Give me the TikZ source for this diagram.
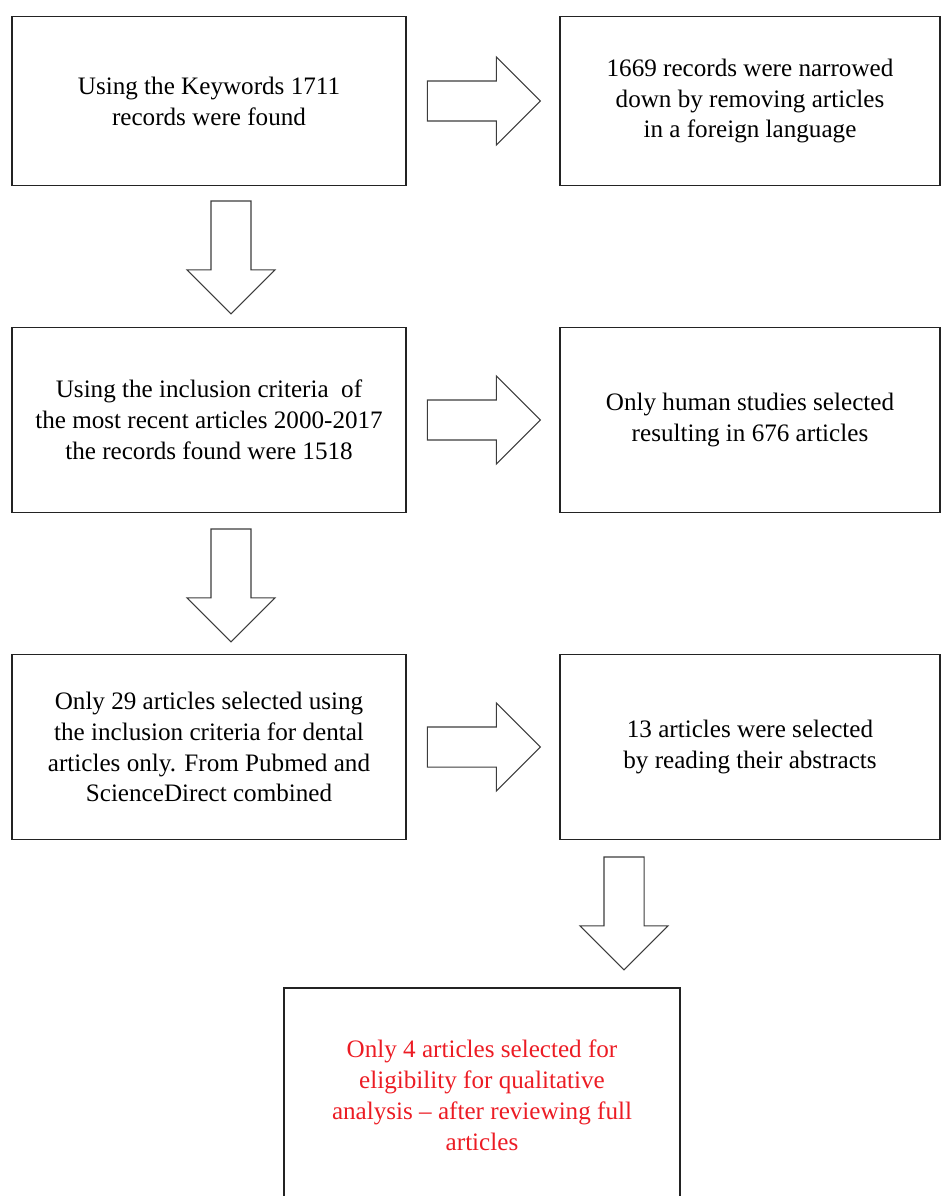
\documentclass[tikz,border=0pt]{standalone}
\usepackage{fontspec}
\setmainfont{Liberation Serif}
\usetikzlibrary{shapes.arrows,calc}

\definecolor{boxline}{RGB}{35,35,35}
\definecolor{arrowline}{RGB}{60,60,60}
\definecolor{finalred}{RGB}{236,28,36}

\tikzset{
    stage/.style={draw=boxline, line width=1.1pt, align=center, inner sep=0pt,
        font=\fontsize{14.3}{17.6}\selectfont},
    leftstage/.style={stage, minimum width=7.88cm},
    rightstage/.style={stage, minimum width=7.6cm},
    blockarrow/.style={draw=arrowline, line width=0.6pt, single arrow, anchor=tail,
        inner xsep=0pt, inner ysep=0.39cm, single arrow head extend=0.48cm,
        single arrow tip angle=90, minimum height=2.26cm}
}

\begin{document}
\begin{tikzpicture}[x=0.02cm, y=-0.02cm]
            \useasboundingbox (0, 0) rectangle (941, 1196);

            \node[leftstage, minimum height=3.38cm] (keywords) at (209, 101) {Using the Keywords 1711\\records were found};
            \node[rightstage, minimum height=3.38cm] (foreign) at (750, 101) {1669 records were narrowed\\down by removing articles\\in a foreign language};

            \node[leftstage, minimum height=3.7cm] (recent) at (209, 420) {Using the inclusion criteria\ \ of\\the most recent articles 2000-2017\\the records found were 1518};
            \node[rightstage, minimum height=3.7cm] (human) at (750, 420) {Only human studies selected\\resulting in 676 articles};

            \node[leftstage, minimum height=3.7cm] (dental) at (209, 747) {Only 29 articles selected using\\the inclusion criteria for dental\\articles only. From Pubmed and\\ScienceDirect combined};
            \node[rightstage, minimum height=3.7cm] (abstracts) at (750, 747) {13 articles were selected\\by reading their abstracts};

            \node[stage, text=finalred, minimum width=7.92cm, minimum height=4.28cm] (final) at (482, 1095) {Only 4 articles selected for\\eligibility for qualitative\\analysis -- after reviewing full\\articles};

            % arrows between the stages
            \node[blockarrow] (a1) at ($(keywords.east)+(20, 0)$) {};
            \node[blockarrow] (a2) at ($(recent.east)+(20, 0)$) {};
            \node[blockarrow] (a3) at ($(dental.east)+(20, 0)$) {};

            \node[blockarrow, rotate=-90] (d1) at ($(keywords.south)+(22, 14)$) {};
            \node[blockarrow, rotate=-90] (d2) at ($(recent.south)+(22, 15)$) {};
            \node[blockarrow, rotate=-90] (d3) at ($(abstracts.south)+(-126, 16)$) {};
        \end{tikzpicture}
\end{document}
